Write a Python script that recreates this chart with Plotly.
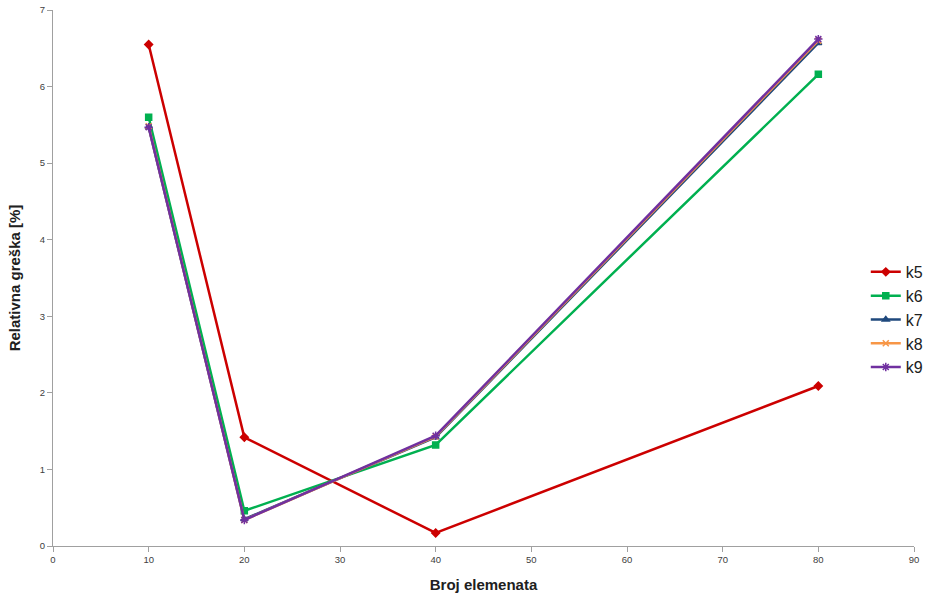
import plotly.graph_objects as go

x_vals = [10, 20, 40, 80]
series_names = ["k5", "k6", "k7", "k8", "k9"]
k5 = [6.55, 1.42, 0.17, 2.09]
k6 = [5.60, 0.46, 1.32, 6.16]
k7 = [5.47, 0.35, 1.42, 6.57]
k8 = [5.48, 0.34, 1.43, 6.60]
k9 = [5.47, 0.34, 1.44, 6.62]
x_ticks = [0, 10, 20, 30, 40, 50, 60, 70, 80, 90]
y_ticks = [0, 1, 2, 3, 4, 5, 6, 7]

series = [k5, k6, k7, k8, k9]
colors = ["#CC0000", "#00B050", "#1F497D", "#F79646", "#7030A0"]
symbols = ["diamond", "square", "triangle-up", "x-thin-open", "asterisk-open"]
sizes = [6, 6, 6, 6, 7]

fig = go.Figure()
for name, vals, c, s, sz in zip(series_names, series, colors, symbols, sizes):
    fig.add_trace(go.Scatter(
        x=x_vals, y=vals, name=name, mode="lines+markers",
        line=dict(color=c, width=2.5),
        marker=dict(symbol=s, size=sz, color=c, line=dict(color=c, width=1.5)),
    ))

fig.update_layout(
    width=925, height=602,
    margin=dict(l=53, r=11, t=10, b=56, autoexpand=False),
    paper_bgcolor="white", plot_bgcolor="white",
    font=dict(family="Liberation Sans, Arial, sans-serif", color="#404040"),
    showlegend=True,
    legend=dict(x=0.944, y=0.543, xanchor="left", yanchor="top",
                bgcolor="rgba(0,0,0,0)", font=dict(size=16, color="#202020"),
                tracegroupgap=0, itemwidth=30),
    xaxis=dict(range=[0, 90], tickvals=x_ticks, showgrid=False, zeroline=False,
               automargin=False,
               showline=True, linecolor="#A0A0A0", linewidth=1,
               ticks="outside", ticklen=5, tickcolor="#A0A0A0",
               tickfont=dict(size=9.5, color="#404040"),
               title=dict(text="<b>Broj elemenata</b>", font=dict(size=15, color="#202020"))),
    yaxis=dict(range=[0, 7], tickvals=y_ticks, showgrid=False, zeroline=False,
               automargin=False,
               showline=True, linecolor="#A0A0A0", linewidth=1,
               ticks="outside", ticklen=5, tickcolor="#A0A0A0",
               tickfont=dict(size=9.5, color="#404040"),
               title=dict(text="<b>Relativna greška [%]</b>", font=dict(size=15, color="#202020"))),
)

fig.write_html("out.html", config={"displayModeBar": False},
               post_script="document.body.style.margin='0';")
